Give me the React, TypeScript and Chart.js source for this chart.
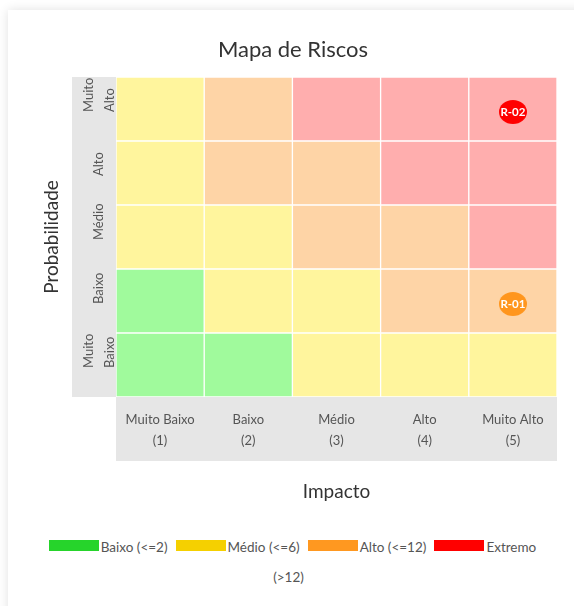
import React, { useEffect, useRef } from 'react';
import { Chart, registerables } from 'chart.js';
Chart.register(...registerables);

// ---- data ----
const chartTitle = 'Mapa de Riscos';
const xTitle = 'Impacto';
const yTitle = 'Probabilidade';
const impactLabels = [
  ['Muito Baixo', '(1)'],
  ['Baixo', '(2)'],
  ['Médio', '(3)'],
  ['Alto', '(4)'],
  ['Muito Alto', '(5)'],
];
// probability labels, bottom (1) to top (5)
const probLabels = [['Muito', 'Baixo'], ['Baixo'], ['Médio'], ['Alto'], ['Muito', 'Alto']];
// risk level of each cell (0 Baixo, 1 Médio, 2 Alto, 3 Extremo), per probability row, impact 1..5
const levelsProb1 = [0, 0, 1, 1, 1];
const levelsProb2 = [0, 1, 1, 2, 2];
const levelsProb3 = [1, 1, 2, 2, 3];
const levelsProb4 = [1, 2, 2, 3, 3];
const levelsProb5 = [1, 2, 3, 3, 3];
const levelNames = ['Baixo (<=2)', 'Médio (<=6)', 'Alto (<=12)', 'Extremo (>12)'];
// risks placed on the map
const riskCodes = ['R-01', 'R-02'];
const riskImpact = [5, 5];
const riskProb = [2, 5];
const riskLevel = [2, 3];

// ---- styles ----
const cellColors = ['#a0fa9c', '#fff59d', '#fed4a6', '#ffaeae'];
const legendColors = ['#26d42b', '#f5d000', '#ff9820', '#ff0000'];
const bubbleColors = ['#26d42b', '#f5d000', '#ff961e', '#ff0000'];
const FONT = 'Lato, "Open Sans", sans-serif';

function makeBubble(color: string) {
  const c = document.createElement('canvas');
  c.width = 28;
  c.height = 30;
  const g = c.getContext('2d')!;
  g.fillStyle = color;
  g.beginPath();
  g.ellipse(14, 18, 14, 12, 0, 0, Math.PI * 2);
  g.fill();
  return c;
}

export default function App() {
  const ref = useRef<HTMLCanvasElement | null>(null);
  useEffect(() => {
    document.body.style.overflow = 'hidden';
    const canvas = ref.current!;
    const rows = [levelsProb1, levelsProb2, levelsProb3, levelsProb4, levelsProb5];
    const bubbles = riskLevel.map((l) => makeBubble(bubbleColors[l]));

    const bandPlugin = {
      id: 'bands',
      beforeDraw(chart: any) {
        const { ctx, chartArea: ca } = chart;
        ctx.save();
        ctx.fillStyle = '#e6e6e6';
        ctx.fillRect(ca.left - 44, ca.top, 44, ca.bottom - ca.top);
        ctx.fillRect(ca.left, ca.bottom, ca.right - ca.left, 64);
        ctx.restore();
      },
      afterDatasetsDraw(chart: any) {
        const { ctx, chartArea: ca } = chart;
        const ys = chart.scales.y;
        ctx.save();
        ctx.fillStyle = '#555';
        ctx.font = '13px ' + FONT;
        ctx.textAlign = 'left';
        ctx.textBaseline = 'middle';
        probLabels.forEach((lines, i) => {
          const y = ys.getPixelForValue(i + 0.5);
          ctx.save();
          ctx.translate(ca.left - 17, y + 3);
          ctx.rotate(-Math.PI / 2);
          lines.forEach((t, j) => ctx.fillText(t, 0, (j - (lines.length - 1) / 2) * 21));
          ctx.restore();
        });
        const meta = chart.getDatasetMeta(chart.data.datasets.length - 1);
        ctx.fillStyle = '#fff';
        ctx.font = 'bold 11.5px ' + FONT;
        ctx.textAlign = 'center';
        meta.data.forEach((pt: any, i: number) => {
          ctx.fillText(riskCodes[i], pt.x, pt.y + 3);
        });
        ctx.restore();
      },
    };

    const chart = new Chart(canvas, {
      type: 'bar',
      data: {
        labels: impactLabels as any,
        datasets: [
          ...rows.map((row, r) => ({
            type: 'bar' as const,
            label: probLabels[r].join(' '),
            data: row.map(() => 1),
            backgroundColor: row.map((l) => cellColors[l]),
            borderColor: 'rgba(255,255,255,0.8)',
            borderWidth: 1,
            borderSkipped: false as any,
            barPercentage: 1,
            categoryPercentage: 1,
            order: 2,
          })),
          {
            type: 'scatter' as const,
            label: 'Riscos',
            data: riskCodes.map((_, i) => ({ x: impactLabels[riskImpact[i] - 1], y: riskProb[i] - 0.5 })),
            pointStyle: bubbles as any,
            pointRadius: 12,
            order: 0,
          } as any,
        ],
      },
      options: {
        animation: false,
        responsive: false,
        events: [],
        layout: { padding: { top: 67, right: 17, bottom: 17, left: 0 } },
        plugins: { legend: { display: false }, tooltip: { enabled: false }, title: { display: false } },
        scales: {
          x: {
            stacked: true,
            grid: { display: false, drawTicks: false },
            border: { display: false },
            ticks: { color: '#555', font: { family: FONT, size: 13, lineHeight: 1.615 }, padding: 12, maxRotation: 0, autoSkip: false },
            title: { display: true, text: xTitle, color: '#333', font: { family: FONT, size: 19, lineHeight: 1.2 }, padding: { top: 0, bottom: 0 } },
            afterFit(s: any) { s.height = 106; },
          },
          y: {
            stacked: true,
            min: 0,
            max: 5,
            grid: { display: false, drawTicks: false },
            border: { display: false },
            ticks: { display: false },
            title: { display: true, text: yTitle, color: '#333', font: { family: FONT, size: 19, lineHeight: 1.2 }, padding: { top: 32, bottom: 0 } },
            afterFit(s: any) { s.width = 108; },
          },
        },
      },
      plugins: [bandPlugin],
    });
    return () => chart.destroy();
  }, []);

  return (
    <div
      style={{
        position: 'absolute',
        left: 8,
        top: 10,
        width: 620,
        height: 640,
        background: '#fff',
        boxShadow: '0 0 10px rgba(0,0,0,0.12)',
        fontFamily: FONT,
      }}
    >
      <canvas ref={ref} width={566} height={510} style={{ position: 'absolute', left: 0, top: 0, width: 566, height: 510 }} />
      <div
        style={{
          position: 'absolute',
          left: 0,
          top: 26,
          width: 570,
          textAlign: 'center',
          fontSize: 22,
          lineHeight: '26px',
          color: '#333',
        }}
      >
        {chartTitle}
      </div>
      <div
        style={{
          position: 'absolute',
          left: 32,
          top: 523,
          width: 505,
          textAlign: 'center',
          fontSize: 13.5,
          lineHeight: '29.5px',
          color: '#555',
        }}
      >
        {levelNames.map((name, i) => (
          <span key={name} style={{ marginRight: 8 }}>
            <span
              style={{
                display: 'inline-block',
                width: 50,
                height: 11,
                marginRight: 2,
                background: legendColors[i],
                verticalAlign: 'middle',
                position: 'relative',
                top: -3,
              }}
            />
            {name}
          </span>
        ))}
      </div>
    </div>
  );
}
